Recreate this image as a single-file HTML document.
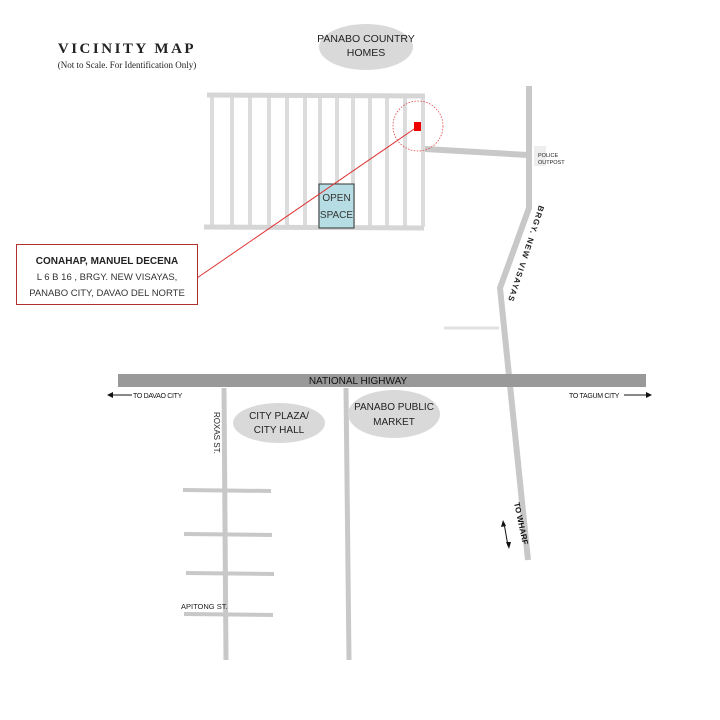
<!DOCTYPE html>
<html><head><meta charset="utf-8"><style>
body{margin:0;background:#fff}
svg{display:block}
</style></head><body>
<svg width="720" height="720" viewBox="0 0 720 720" font-family="Liberation Sans, sans-serif">
<rect width="720" height="720" fill="#fff"/>
<text x="127" y="53" text-anchor="middle" style="font-family:'Liberation Serif',serif;font-weight:bold;font-size:15px;letter-spacing:2.5px" fill="#222">VICINITY MAP</text>
<text x="127" y="68" text-anchor="middle" style="font-family:'Liberation Serif',serif;font-size:9px" fill="#222">(Not to Scale. For Identification Only)</text>
<ellipse cx="366" cy="47" rx="47" ry="23" fill="#d9d9d9"/>
<text x="366" y="42" text-anchor="middle" font-size="10.5" fill="#222">PANABO COUNTRY</text>
<text x="366" y="56" text-anchor="middle" font-size="10.5" fill="#222">HOMES</text>
<g stroke="#dcdcdc" stroke-width="4">
<line x1="212" y1="95" x2="212" y2="227"/><line x1="232" y1="95" x2="232" y2="227"/><line x1="250" y1="95" x2="250" y2="227"/><line x1="269" y1="95" x2="269" y2="227"/><line x1="287" y1="95" x2="287" y2="227"/><line x1="305" y1="95" x2="305" y2="227"/><line x1="320" y1="95" x2="320" y2="227"/><line x1="337" y1="95" x2="337" y2="227"/><line x1="353" y1="95" x2="353" y2="227"/><line x1="370" y1="95" x2="370" y2="227"/><line x1="387" y1="95" x2="387" y2="227"/><line x1="405" y1="95" x2="405" y2="227"/><line x1="423" y1="95" x2="423" y2="227"/>
</g>
<line x1="207" y1="95" x2="425" y2="96" stroke="#d6d6d6" stroke-width="5"/>
<line x1="204" y1="227" x2="424" y2="228" stroke="#d6d6d6" stroke-width="5"/>
<line x1="425" y1="149" x2="528" y2="155" stroke="#c8c8c8" stroke-width="6"/>
<polyline points="529,86 529,208 500,288 528,560" fill="none" stroke="#c8c8c8" stroke-width="6"/>
<line x1="444" y1="328" x2="499" y2="328" stroke="#e0e0e0" stroke-width="3"/>
<rect x="534" y="146" width="12" height="20" fill="#eee"/>
<text x="538" y="157" font-size="5.5" fill="#222">POLICE</text>
<text x="538" y="164" font-size="5.5" fill="#222">OUTPOST</text>
<text transform="translate(539,205) rotate(108)" font-size="8" font-weight="bold" fill="#222" x="0" y="0" textLength="100">BRGY. NEW VISAYAS</text>
<rect x="319" y="184" width="35" height="44" fill="#b7dde4" stroke="#333" stroke-width="1"/>
<text x="336.5" y="201" text-anchor="middle" font-size="10" fill="#333">OPEN</text>
<text x="336.5" y="218" text-anchor="middle" font-size="10" fill="#333">SPACE</text>
<line x1="417" y1="127" x2="197" y2="278" stroke="#d33" stroke-width="1"/>
<circle cx="418" cy="126" r="25" fill="none" stroke="#d44" stroke-width="0.8" stroke-dasharray="1.5,1.5"/>
<rect x="414" y="122" width="7" height="9" fill="#e00"/>
<rect x="16.5" y="244.5" width="181" height="60" fill="#fff" stroke="#b03030" stroke-width="1"/>
<text x="107" y="264" text-anchor="middle" font-size="10" font-weight="bold" fill="#222">CONAHAP, MANUEL DECENA</text>
<text x="107" y="280" text-anchor="middle" font-size="9.5" fill="#333">L 6 B 16 ,  BRGY. NEW VISAYAS,</text>
<text x="107" y="296" text-anchor="middle" font-size="9.5" fill="#333">PANABO CITY, DAVAO DEL NORTE</text>
<rect x="118" y="374" width="528" height="13" fill="#999"/>
<text x="358" y="384" text-anchor="middle" font-size="10" fill="#111">NATIONAL HIGHWAY</text>
<line x1="110" y1="395" x2="132" y2="395" stroke="#111"/><polygon points="107,395 113,392 113,398" fill="#111"/>
<text x="133" y="398" font-size="7" fill="#111" letter-spacing="-0.3">TO DAVAO CITY</text>
<text x="569" y="398" font-size="7" fill="#111" letter-spacing="-0.3">TO TAGUM CITY</text>
<line x1="624" y1="395" x2="648" y2="395" stroke="#111"/><polygon points="652,395 646,392 646,398" fill="#111"/>
<line x1="224" y1="388" x2="226" y2="660" stroke="#c8c8c8" stroke-width="5"/>
<line x1="346" y1="388" x2="349" y2="660" stroke="#c8c8c8" stroke-width="5"/>
<g stroke="#c8c8c8" stroke-width="4">
<line x1="183" y1="490" x2="271" y2="491"/><line x1="184" y1="534" x2="272" y2="535"/><line x1="186" y1="573" x2="274" y2="574"/><line x1="184" y1="614" x2="273" y2="615"/>
</g>
<text transform="translate(214,412) rotate(90)" font-size="8" fill="#222">ROXAS ST.</text>
<text x="181" y="609" font-size="7.5" fill="#222">APITONG ST.</text>
<ellipse cx="279" cy="423" rx="46" ry="20" fill="#d9d9d9"/>
<text x="279" y="419" text-anchor="middle" font-size="10" fill="#222">CITY PLAZA/</text>
<text x="279" y="433" text-anchor="middle" font-size="10" fill="#222">CITY HALL</text>
<ellipse cx="394" cy="414" rx="46" ry="24" fill="#d9d9d9"/>
<text x="394" y="410" text-anchor="middle" font-size="10" fill="#222">PANABO PUBLIC</text>
<text x="394" y="425" text-anchor="middle" font-size="10" fill="#222">MARKET</text>
<text transform="translate(514,503) rotate(78)" font-size="8" font-weight="bold" fill="#111">TO WHARF</text>
<line x1="504" y1="523" x2="508" y2="546" stroke="#111"/>
<polygon points="503,520 501,527 506,526" fill="#111"/><polygon points="509,549 506,542 511,542" fill="#111"/>
</svg>
</body></html>
